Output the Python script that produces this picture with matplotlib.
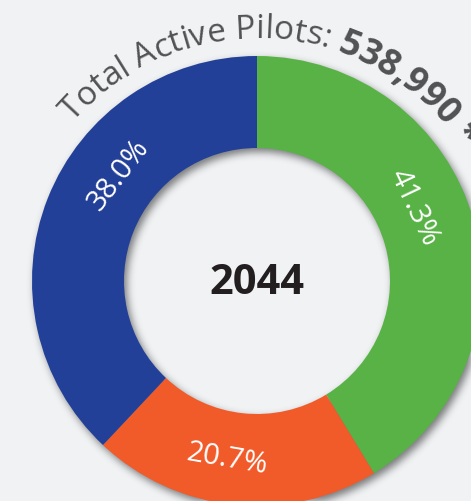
import numpy as np
import matplotlib
matplotlib.use("Agg")
import matplotlib.pyplot as plt
from matplotlib.font_manager import FontProperties, findfont, get_font

# data
labels = ["General Aviation", "Commercial", "Business"]
shares = [41.3, 20.7, 38.0]
colors = ["#58b246", "#f15a29", "#224098"]
year = "2044"
title_regular = "Total Active Pilots: "
title_bold = "538,990 *"

# label placement (angle deg, radius px)
label_pos = [(25.4, 173), (-99.6, 180), (142.4, 175)]

W, H, DPI = 471, 502, 100
CX, CY = 257, 220
R_OUT, R_IN = 225, 133
FONT = "Open Sans"
BG = "#f1f2f4"
TEXT_GRAY = "#515254"

fig = plt.figure(figsize=(W / DPI, H / DPI), dpi=DPI, facecolor=BG)
ax = fig.add_axes([0, 0, 1, 1])
ax.set_facecolor(BG)


def soft_shadow(ax, dx=3, dy=-4, sigma=4.0, strength=0.5):
    """Blurred ring shadow drawn under the donut"""
    ys, xs = np.mgrid[0:H, 0:W] + 0.5
    d = np.hypot(xs - (CX + dx), ys - (CY + dy))
    mask = ((d <= R_OUT) & (d >= R_IN)).astype(float)
    k = np.arange(-int(3 * sigma), int(3 * sigma) + 1)
    kern = np.exp(-k ** 2 / (2 * sigma ** 2))
    kern /= kern.sum()
    for i in range(H):
        mask[i] = np.convolve(mask[i], kern, mode="same")
    for j in range(W):
        mask[:, j] = np.convolve(mask[:, j], kern, mode="same")
    img = np.zeros((H, W, 4))
    img[..., 3] = mask * strength
    ax.imshow(img, extent=(0, W, 0, H), origin="lower", zorder=1,
              interpolation="bilinear")


soft_shadow(ax)

ax.pie(shares, colors=colors, startangle=90, counterclock=False,
       radius=R_OUT, center=(CX, CY),
       wedgeprops=dict(width=R_OUT - R_IN, linewidth=0, zorder=2))

for txt, (ang, rad) in zip(shares, label_pos):
    a = np.deg2rad(ang)
    rot = ang - 90 if ang > 0 else ang + 90
    ax.text(CX + rad * np.cos(a), CY + rad * np.sin(a), f"{txt:.1f}%",
            color="white", fontsize=21, family=FONT, rotation=rot,
            rotation_mode="anchor", ha="center", va="center", zorder=3)

ax.text(CX, CY - 2, year, color="#231f20", fontsize=30, family=FONT,
        weight="bold", ha="center", va="center", zorder=3)


def arc_text(ax, parts, radius, start_deg):
    """Writes text clockwise along a circle, one character at a time"""
    theta = start_deg
    for s, weight, size in parts:
        fp = FontProperties(family=FONT, weight=weight, size=size)
        font = get_font(findfont(fp))
        font.set_size(size, 72)
        for ch in s:
            adv = font.load_char(ord(ch)).linearHoriAdvance / 65536 * DPI / 72
            mid = theta - np.rad2deg(adv / 2 / radius)
            a = np.deg2rad(mid)
            ax.text(CX + radius * np.cos(a), CY + radius * np.sin(a), ch,
                    fontproperties=fp, color=TEXT_GRAY, rotation=mid - 90,
                    rotation_mode="anchor", ha="center", va="baseline",
                    zorder=3)
            theta -= np.rad2deg(adv / radius)


arc_text(ax, [(title_regular, "normal", 24), (title_bold, "bold", 26)],
         radius=244, start_deg=139)

ax.set_xlim(0, W)
ax.set_ylim(0, H)
ax.set_aspect("auto")
ax.axis("off")

fig.savefig("out.png", dpi=DPI, facecolor=BG)
